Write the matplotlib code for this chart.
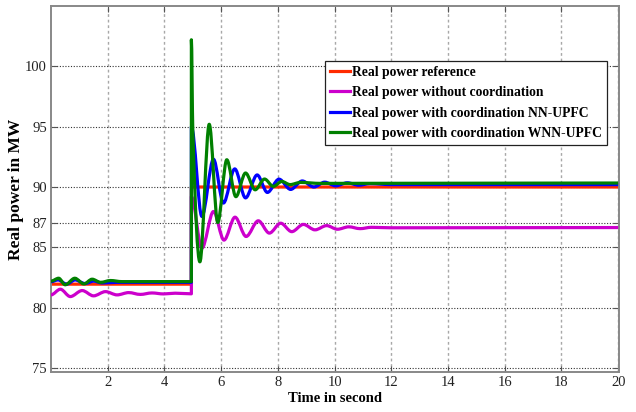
import matplotlib
matplotlib.use("Agg")
import matplotlib.pyplot as plt
from matplotlib.path import Path
from matplotlib.patches import PathPatch
from matplotlib.lines import Line2D
import numpy as np

plt.rcParams['font.family'] = ['Liberation Serif', 'DejaVu Serif']

# ---- data (time in s, power in MW) ----
ref_t = [0.0, 4.95, 4.95, 20.0]
ref_v = [81.95, 81.95, 90.0, 90.0]

without_t = [0.0, 0.33, 0.68, 1.1, 1.5, 1.92, 2.33, 2.74, 3.15, 3.56, 3.97, 4.38, 4.95,
             4.95, 5.32, 5.73, 6.1, 6.49, 6.88, 7.31, 7.7, 8.1, 8.49, 8.9, 9.31, 9.72,
             10.1, 10.5, 10.9, 11.3, 12.0, 20.0]
without_v = [81.06, 81.53, 80.92, 81.42, 80.98, 81.33, 81.06, 81.25, 81.1, 81.22, 81.14, 81.2, 81.15,
             89.2, 84.93, 87.97, 85.6, 87.5, 85.9, 87.2, 86.18, 87.0, 86.3, 86.9, 86.45, 86.8,
             86.5, 86.7, 86.55, 86.66, 86.62, 86.64]

nn_t = [0.0, 0.25, 0.55, 0.85, 1.2, 1.5, 1.8, 2.3, 4.95,
        4.95, 5.32, 5.73, 6.08, 6.48, 6.86, 7.27, 7.63, 8.04, 8.45, 8.86, 9.27, 9.65,
        10.04, 10.45, 10.85, 11.25, 12.0, 20.0]
nn_v = [82.15, 82.3, 81.95, 82.3, 82.0, 82.2, 82.05, 82.1, 82.1,
        95.0, 87.56, 92.3, 88.67, 91.5, 89.1, 91.0, 89.55, 90.65, 89.8, 90.5, 90.0, 90.4,
        90.1, 90.35, 90.15, 90.28, 90.2, 90.2]

wnn_t = [0.0, 0.27, 0.5, 0.84, 1.16, 1.45, 1.75, 2.1, 2.5, 4.95,
         4.95, 5.0, 5.25, 5.58, 5.88, 6.2, 6.52, 6.86, 7.2, 7.53, 7.84, 8.14, 8.43,
         8.8, 9.5, 20.0]
wnn_v = [82.2, 82.44, 81.9, 82.44, 81.97, 82.36, 82.1, 82.25, 82.16, 82.16,
         102.2, 94.7, 83.8, 95.2, 87.06, 92.26, 89.2, 91.16, 89.77, 90.66, 90.05, 90.46, 90.2,
         90.38, 90.3, 90.33]

labels = ["Real power reference",
          "Real power without coordination",
          "Real power with coordination NN-UPFC",
          "Real power with coordination WNN-UPFC"]
colors = ["#ff2a00", "#cc00cc", "#0000ff", "#008000"]

xticks = [2, 4, 6, 8, 10, 12, 14, 16, 18, 20]
yticks = [75, 80, 85, 87, 90, 95, 100]


def smooth_path(t, v):
    """Monotone cubic (PCHIP-style) Bezier path through the given points."""
    t = np.asarray(t, float)
    v = np.asarray(v, float)
    n = len(t)
    h = np.diff(t)
    with np.errstate(divide='ignore', invalid='ignore'):
        d = np.where(h > 0, np.diff(v) / np.where(h > 0, h, 1), np.nan)
    m = np.zeros(n)
    for i in range(1, n - 1):
        h0, h1 = h[i - 1], h[i]
        if h0 <= 0 or h1 <= 0:
            continue
        d0, d1 = d[i - 1], d[i]
        if d0 * d1 <= 0:
            continue
        w1 = 2 * h1 + h0
        w2 = h1 + 2 * h0
        m[i] = (w1 + w2) / (w1 / d0 + w2 / d1)
    verts = [(t[0], v[0])]
    codes = [Path.MOVETO]
    for i in range(n - 1):
        dt = h[i] / 3.0
        verts += [(t[i] + dt, v[i] + m[i] * dt),
                  (t[i + 1] - dt, v[i + 1] - m[i + 1] * dt),
                  (t[i + 1], v[i + 1])]
        codes += [Path.CURVE4] * 3
    return Path(verts, codes)


fig = plt.figure(figsize=(6.36, 4.12), dpi=100)
ax = fig.add_axes([51 / 636, 1 - 372 / 412, (619 - 51) / 636, (372 - 6) / 412])

series = [(ref_t, ref_v, colors[0], 2),
          (without_t, without_v, colors[1], 3),
          (nn_t, nn_v, colors[2], 4),
          (wnn_t, wnn_v, colors[3], 5)]
for t, v, c, z in series:
    patch = PathPatch(smooth_path(t, v), facecolor='none', edgecolor=c, lw=2.3,
                      joinstyle='round', capstyle='butt', zorder=z)
    ax.add_patch(patch)

ax.set_xlim(0, 20.03)
ax.set_ylim(74.67, 105.0)
ax.set_xticks(xticks)
ax.set_yticks(yticks)
ax.tick_params(labelsize=10.5, colors='#222222', direction='in', length=4,
               top=True, right=True, pad=3)
ax.tick_params(axis='both', color='#555555')

ax.xaxis.grid(True, color='#a8a8a8', linestyle=(0, (2, 2)), lw=1.0)
ax.yaxis.grid(True, color='#333333', linestyle=(0, (1, 1.5)), lw=0.8)
ax.set_axisbelow(True)

for s in ax.spines.values():
    s.set_color('#888888')
    s.set_linewidth(1.4)

ax.set_xlabel("Time in second", fontsize=10.5, fontweight='bold', labelpad=2)
ax.set_ylabel("Real power in MW", fontsize=12.5, fontweight='bold', labelpad=1)

handles = [Line2D([], [], color=c, lw=2.3) for c in colors]
leg = ax.legend(handles, labels, loc='upper left',
                bbox_to_anchor=(325 / 636, 1 - 61 / 412), bbox_transform=fig.transFigure,
                borderaxespad=0, fancybox=False, framealpha=1, edgecolor='#222222',
                prop={'weight': 'bold', 'size': 9.8}, handlelength=1.5,
                handletextpad=0.15, labelspacing=0.55, borderpad=0.35)
leg.get_frame().set_linewidth(0.9)
leg.set_zorder(10)

fig.savefig("out.png", dpi=100)
